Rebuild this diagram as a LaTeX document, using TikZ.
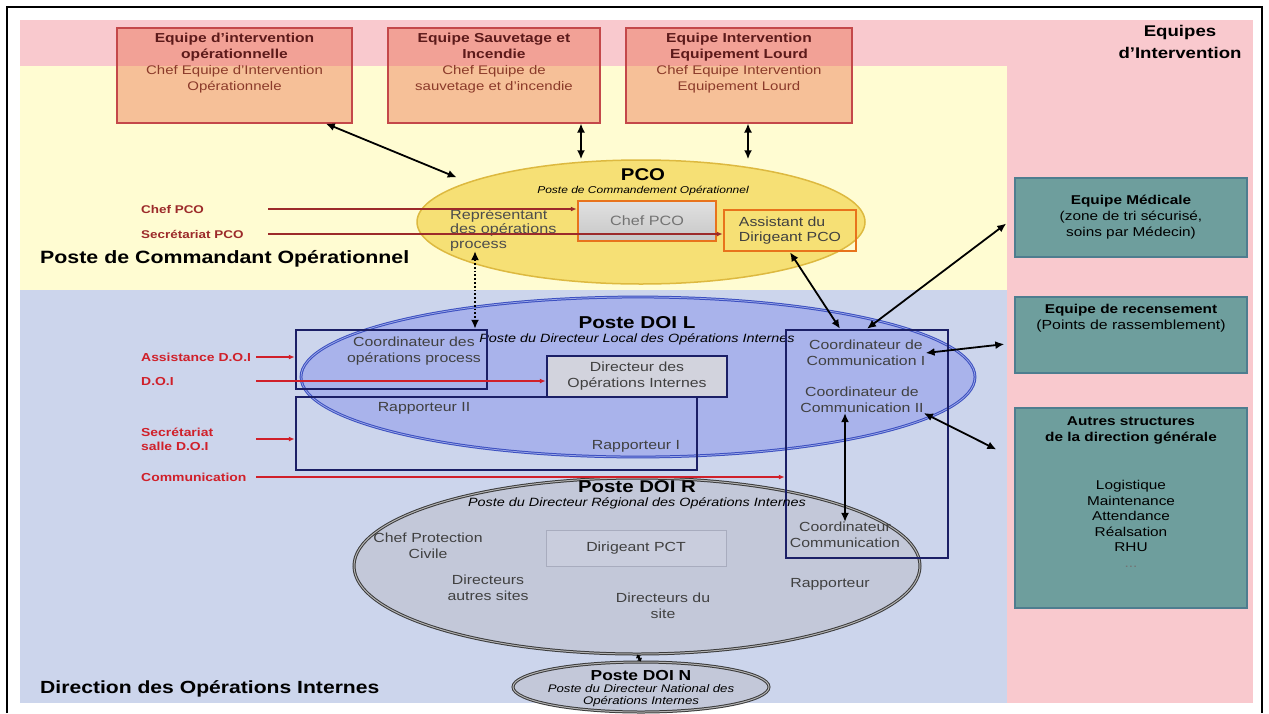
\documentclass[tikz,border=0pt]{standalone}
\usepackage{fontspec}
\setmainfont{Liberation Sans}[FakeStretch=1.2]
\usepackage{tikz}
\usetikzlibrary{arrows.meta,shapes.geometric,positioning,calc}
\definecolor{bgpink}{HTML}{F9C9CE}
\definecolor{bgyel}{HTML}{FFFCD2}
\definecolor{bgblue}{HTML}{CCD5EC}
\definecolor{teamred}{HTML}{C4484A}
\definecolor{teamfill}{HTML}{E8603C}
\definecolor{teamdark}{HTML}{5C1A1A}
\definecolor{teambrown}{HTML}{8B3A2A}
\definecolor{pcofill}{HTML}{F6E075}
\definecolor{pcoedge}{HTML}{DDB940}
\definecolor{orangeb}{HTML}{E8731C}
\definecolor{doilfill}{HTML}{A9B3EB}
\definecolor{doiledge}{HTML}{3B4FC0}
\definecolor{doildbl}{HTML}{9AA6E6}
\definecolor{navy}{HTML}{1B1F66}
\definecolor{dirfill}{HTML}{D2D3DD}
\definecolor{doirfill}{HTML}{C3C8D9}
\definecolor{doiredge}{HTML}{3A3A3A}
\definecolor{pctfill}{HTML}{C9CDDD}
\definecolor{pctedge}{HTML}{A8ACBE}
\definecolor{tealfill}{HTML}{6E9E9D}
\definecolor{tealedge}{HTML}{4E7D8F}
\definecolor{lblred}{HTML}{D0202A}
\definecolor{pcored}{HTML}{9C2A2A}
\newcommand{\fsz}[2]{\fontsize{#1}{#2}\selectfont}

\begin{document}
\begin{tikzpicture}[x=1pt, y=-1pt, >={Latex[length=9pt,width=8pt]},
  teambox/.style={draw=teamred, line width=2pt, fill=teamfill, fill opacity=.38, text opacity=1, minimum height=95, inner sep=0},
  teamtxt/.style={align=center, font=\fsz{12.5}{16}, text=teambrown, inner sep=0},
  navybox/.style={draw=navy, line width=2.5pt, inner sep=0},
  boxtxt/.style={align=center, font=\fsz{13.2}{16}, text=black!75, inner sep=0},
  tealbox/.style={draw=tealedge, line width=1.5pt, fill=tealfill, minimum width=232, inner sep=0, align=center, font=\fsz{12.8}{16}},
  tealtxt/.style={align=center, font=\fsz{12.8}{16}, inner sep=0},
  pcolbl/.style={anchor=west, font=\bfseries\fsz{11.2}{13}, text=pcored, inner sep=0},
  doilbl/.style={anchor=west, align=left, font=\bfseries\fsz{11.6}{14}, text=lblred, inner sep=0},
  redarr/.style={line width=1.2pt, -{Latex[length=6pt,width=5pt]}},
  blkarr/.style={line width=1.8pt, <->}
]
\useasboundingbox (0,0) rectangle (1269,713);
\fill[bgpink] (20,20) rectangle (1253,703);
\fill[bgyel] (20,66) rectangle (1007,290);
\fill[bgblue] (20,290) rectangle (1007,703);
\draw[line width=2.5pt] (7,713) -- (7,7) -- (1262,7) -- (1262,713);

\node[teambox, minimum width=235] (eqA) at (234.5,75) {};
\node[teamtxt, below=6pt of eqA.north] (eqAt) {{\bfseries\fsz{13}{16}\color{teamdark}Equipe d’intervention}\\{\bfseries\fsz{13}{16}\color{teamdark}opérationnelle}\\Chef Equipe d’Intervention\\Opérationnele};
\node[teambox, minimum width=212] (eqB) at (494,75) {};
\node[teamtxt, below=6pt of eqB.north] (eqBt) {{\bfseries\fsz{13}{16}\color{teamdark}Equipe Sauvetage et}\\{\bfseries\fsz{13}{16}\color{teamdark}Incendie}\\Chef Equipe de\\sauvetage et d’incendie};
\node[teambox, minimum width=226] (eqC) at (739,75) {};
\node[teamtxt, below=6pt of eqC.north] (eqCt) {{\bfseries\fsz{13}{16}\color{teamdark}Equipe Intervention}\\{\bfseries\fsz{13}{16}\color{teamdark}Equipement Lourd}\\Chef Equipe Intervention\\Equipement Lourd};
\node[align=center, font=\bfseries\fsz{15.5}{22}, inner sep=0] (eqTitle) at (1180,42) {Equipes\\d’Intervention};

\node[ellipse, minimum width=448, minimum height=124, fill=pcofill, draw=pcoedge, line width=1.5pt, inner sep=0] (pco) at (641,222) {};
\node[ellipse, minimum width=674, minimum height=160, fill=doilfill, draw=doiledge, double=doildbl, double distance=.8pt, line width=1pt, inner sep=0] (doiL) at (638,377) {};
\node[ellipse, minimum width=566, minimum height=176, fill=doirfill, draw=doiredge, double=black!30, double distance=1pt, line width=1pt, inner sep=0] (doiR) at (637,566) {};
\node[ellipse, minimum width=256, minimum height=50, fill=doirfill, draw=doiredge, double=black!30, double distance=1pt, line width=1pt, inner sep=0] (doiN) at (641,687) {};

\node[align=center, inner sep=0] (pcoLbl) at (643,182) {{\bfseries\fsz{17}{17}PCO}\\[1pt]{\itshape\fsz{10}{10}Poste de Commandement Opérationnel}};
\node[draw=orangeb, line width=2.5pt, top color=black!12, bottom color=black!22, minimum width=138, minimum height=40, font=\fsz{13.5}{14}, text=black!55] (chef) at (647,221) {Chef PCO};
\node[draw=orangeb, line width=2.5pt, minimum width=132, minimum height=41, align=left, font=\fsz{13.2}{15}, text=black!75] (assist) at (790,230.5) {Assistant du\\Dirigeant PCO};
\node[anchor=west, align=left, font=\fsz{13.5}{14.5}, text=black!70, inner sep=0] (rep) at (450,230) {Représentant\\des opérations\\process};
\node[anchor=west, font=\bfseries\fsz{17.8}{20}, inner sep=0] (pcoTitle) at (40,259) {Poste de Commandant Opérationnel};

\node[align=center, inner sep=0] (doiLLbl) at (637,331) {{\bfseries\fsz{17.2}{18}Poste DOI L}\\[2pt]{\itshape\fsz{12}{12}Poste du Directeur Local des Opérations Internes}};
\node[navybox, minimum width=191, minimum height=59] (coordOp) at (391.5,359.5) {};
\node[boxtxt] (coordOpT) at (414,351) {Coordinateur des\\opérations process};
\node[navybox, fill=dirfill, minimum width=180, minimum height=41, boxtxt] (dirOI) at (637,376.5) {Directeur des\\Opérations Internes};
\node[navybox, minimum width=401, minimum height=73] (rapp) at (496.5,433.5) {};
\node[boxtxt] (rapII) at (424,408) {Rapporteur II};
\node[boxtxt] (rapI) at (636,446) {Rapporteur I};
\node[navybox, minimum width=162, minimum height=228] (tall) at (867,444) {};
\node[boxtxt] (commI) at (866,353) {Coordinateur de\\Communication I};
\node[boxtxt] (commII) at (862,400) {Coordinateur de\\Communication II};
\node[boxtxt] (commIII) at (845,535) {Coordinateur\\Communication};

\node[align=center, inner sep=0] (doiRLbl) at (637,495) {{\bfseries\fsz{17}{17}Poste DOI R}\\[2pt]{\itshape\fsz{12}{12}Poste du Directeur Régional des Opérations Internes}};
\node[boxtxt] (chefPC) at (428,546) {Chef Protection\\Civile};
\node[draw=pctedge, fill=pctfill, minimum width=180, minimum height=36, boxtxt] (pct) at (636,548) {Dirigeant PCT};
\node[boxtxt] (dirAut) at (488,588) {Directeurs\\autres sites};
\node[boxtxt] (dirSite) at (663,606) {Directeurs du\\site};
\node[boxtxt] (rapR) at (830,584) {Rapporteur};
\node[align=center, inner sep=0, font=\itshape\fsz{11}{12}] (doiNLbl) at (641,689) {{\upshape\bfseries\fsz{14.5}{15}Poste DOI N}\\Poste du Directeur National des\\Opérations Internes};
\node[anchor=west, font=\bfseries\fsz{17.6}{20}, inner sep=0] (doiTitle) at (40,689) {Direction des Opérations Internes};

\node[tealbox, minimum height=79] (med) at (1131,217.5) {\textbf{Equipe Médicale}\\(zone de tri sécurisé,\\soins par Médecin)};
\node[tealbox, minimum height=76] (recens) at (1131,335) {};
\node[tealtxt, below=8pt of recens.north] (recensT) {\textbf{Equipe de recensement}\\{\fsz{13.2}{13}(Points de rassemblement)}};
\node[tealbox, minimum height=200] (autres) at (1131,508) {};
\node[tealtxt, below=9pt of autres.north] (autresT) {\textbf{Autres structures}\\\textbf{de la direction générale}};
\node[tealtxt, font=\fsz{12.8}{15.5}] (autresL) at (1131,524) {Logistique\\Maintenance\\Attendance\\Réalsation\\RHU\\{\color{black!55}...}};

\node[pcolbl] (lblChef) at (141,209) {Chef PCO};
\node[pcolbl] (lblSec) at (141,234) {Secrétariat PCO};
\node[doilbl] (lblAss) at (141,357) {Assistance D.O.I};
\node[doilbl] (lblDoi) at (141,381) {D.O.I};
\node[doilbl] (lblSal) at (141,439) {Secrétariat\\salle D.O.I};
\node[doilbl] (lblCom) at (141,477) {Communication};
\coordinate (px) at (268,0);
\coordinate (rx) at (256,0);
\draw[redarr, draw=pcored] (lblChef.east -| px) -- (lblChef.east -| chef.west);
\draw[redarr, draw=pcored] (lblSec.east -| px) -- (lblSec.east -| assist.west);
\draw[redarr, draw=lblred] (lblAss.east -| rx) -- (lblAss.east -| coordOp.west);
\draw[redarr, draw=lblred] (lblDoi.east -| rx) -- (lblDoi.east -| dirOI.west);
\draw[redarr, draw=lblred] (lblSal.east -| rx) -- (lblSal.east -| rapp.west);
\draw[redarr, draw=lblred] (lblCom.east -| rx) -- (lblCom.east -| tall.west);

\coordinate (xb) at (581,0);
\coordinate (xc) at (748,0);
\coordinate (xd) at (475,0);
\coordinate (xv) at (845,0);
\path[blkarr]
(eqA.-28) edge[shorten >=12pt] (pco.167)
(eqB.south -| xb) edge (pco.north -| xb)
(eqC.south -| xc) edge (pco.north -| xc)
(rep.south -| xd) edge[dotted] (coordOp.north -| xd)
(assist.south) edge ([xshift=-27pt]tall.north)
(tall.north) edge[shorten >=10pt] (med.west)
(commI.east) edge[shorten >=10pt] ([yshift=-8pt]recens.west)
(commII.south east) edge[shorten >=20pt] (autres.157)
(commII.south -| xv) edge (commIII.north -| xv)
;
\draw[line width=2.5pt, {Latex[length=3pt,width=6pt]}-{Latex[length=3pt,width=6pt]}] (doiR.south) -- (doiN.north);
\end{tikzpicture}
\end{document}
